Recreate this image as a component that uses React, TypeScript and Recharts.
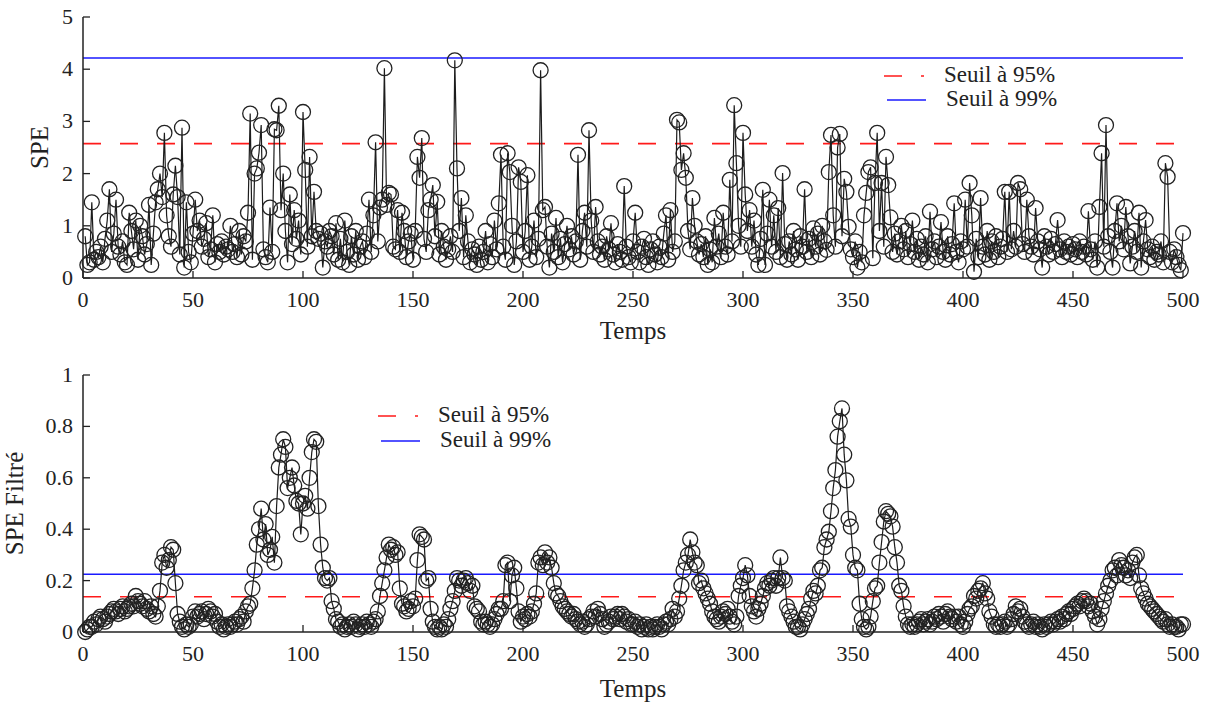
import { LineChart, Line, XAxis, YAxis, ReferenceLine, Legend, Text } from 'recharts';

// SPE brut, t = 1..500
const spe = [
  0.8, 0.25, 0.3, 1.45, 0.35, 0.5, 0.4, 0.6, 0.3, 0.75,
  1.1, 1.7, 0.5, 0.85, 1.5, 0.6, 0.45, 0.7, 0.3, 0.25,
  1.25, 0.9, 0.55, 1.1, 0.35, 1.0, 0.8, 0.45, 0.65, 1.4,
  0.25, 0.85, 1.45, 1.7, 2.0, 1.55, 2.78, 1.2, 0.8, 0.6,
  1.6, 2.15, 1.55, 0.45, 2.88, 0.2, 1.45, 0.5, 0.3, 0.85,
  1.5, 0.9, 1.1, 0.6, 0.75, 1.05, 0.4, 0.55, 1.2, 0.3,
  0.65, 0.5, 0.7, 0.45, 0.6, 0.55, 1.0, 0.5, 0.65, 0.4,
  0.9, 0.45, 0.8, 0.7, 1.25, 3.15, 0.35, 2.0, 2.1, 2.4,
  2.93, 0.55, 0.4, 0.3, 1.35, 0.5, 2.85, 2.83, 3.3, 1.3,
  2.0, 0.9, 0.3, 1.6, 0.65, 1.3, 0.75, 1.1, 0.45, 3.18,
  2.07, 0.6, 2.32, 0.8, 1.65, 0.9, 0.75, 0.85, 0.2, 0.7,
  0.6, 0.9, 0.8, 0.45, 1.05, 0.35, 0.75, 0.3, 1.1, 0.5,
  0.25, 0.8, 0.45, 0.9, 0.35, 0.6, 0.7, 0.4, 0.85, 1.5,
  0.5, 1.2, 2.6, 0.7, 1.35, 1.5, 4.02, 1.4, 1.63, 1.6,
  0.6, 0.55, 1.3, 0.5, 1.25, 0.9, 0.4, 0.7, 0.85, 0.35,
  0.9, 2.32, 1.92, 2.68, 0.75, 0.5, 1.3, 1.5, 1.78, 0.8,
  1.46, 0.45, 0.9, 0.6, 0.35, 0.55, 0.8, 0.5, 4.17, 2.1,
  0.9, 1.53, 0.4, 1.2, 0.7, 0.3, 0.55, 0.45, 0.25, 0.6,
  0.35, 0.5, 0.9, 0.3, 0.65, 0.4, 1.1, 0.55, 1.43, 2.36,
  0.6, 0.35, 2.39, 2.03, 1.0, 0.25, 0.7, 2.12, 1.84, 0.5,
  0.9, 1.97, 0.35, 0.6, 1.1, 0.4, 0.75, 3.98, 1.3, 1.36,
  0.6, 0.2, 0.85, 0.5, 1.15, 0.4, 0.75, 0.3, 0.65, 1.0,
  0.55, 0.8, 0.45, 0.7, 2.36, 0.35, 0.9, 1.25, 0.6, 2.83,
  1.1, 0.5, 1.36, 0.7, 0.45, 0.6, 0.35, 0.8, 0.55, 1.05,
  0.45, 0.3, 0.65, 0.5, 0.35, 1.76, 0.6, 0.4, 0.3, 0.7,
  1.25, 0.5, 0.3, 0.6, 0.75, 0.4, 0.25, 0.55, 0.7, 0.45,
  0.3, 0.6, 0.4, 0.85, 1.2, 0.35, 1.3, 0.5, 0.7, 3.03,
  2.98, 2.07, 2.39, 1.92, 0.9, 0.55, 1.53, 1.0, 0.7, 0.45,
  0.65, 0.4, 0.8, 0.25, 0.55, 0.3, 1.15, 0.6, 0.85, 0.4,
  1.25, 0.6, 0.45, 1.88, 0.7, 3.31, 2.2, 1.0, 0.6, 2.78,
  1.6, 0.9, 1.3, 0.6, 1.1, 0.45, 0.25, 0.75, 1.69, 0.25,
  0.85, 1.5, 0.6, 1.2, 0.5, 1.34, 0.4, 2.01, 0.65, 0.35,
  0.7, 0.45, 0.9, 0.55, 0.35, 0.8, 0.6, 1.7, 0.5, 0.75,
  0.4, 0.95, 0.6, 0.85, 0.45, 1.0, 0.7, 0.54, 2.03, 2.74,
  1.2, 0.6, 2.5, 2.76, 0.8, 1.9, 1.65, 0.98, 0.55, 0.4,
  0.7, 0.2, 0.5, 0.3, 1.2, 1.63, 2.03, 2.12, 0.38, 1.82,
  2.78, 0.9, 1.82, 0.6, 2.32, 1.78, 1.16, 0.5, 0.85, 0.45,
  0.7, 1.0, 0.55, 0.9, 0.4, 0.65, 1.1, 0.5, 0.75, 0.35,
  0.6, 0.45, 0.8, 0.3, 1.27, 0.55, 0.7, 0.4, 0.6, 1.07,
  0.5, 0.35, 0.8, 0.45, 0.65, 1.43, 0.5, 0.3, 0.7, 0.55,
  1.5, 0.6, 1.82, 1.2, 0.12, 0.75, 0.4, 1.53, 0.6, 0.45,
  0.9, 0.35, 0.7, 0.5, 0.8, 0.4, 0.6, 0.75, 1.65, 0.5,
  1.65, 0.55, 0.9, 0.6, 1.82, 1.7, 0.65, 0.5, 1.5, 0.8,
  0.6, 0.45, 1.34, 0.7, 0.55, 0.2, 0.8, 0.6, 0.45, 0.75,
  0.5, 0.65, 1.11, 0.55, 0.4, 0.7, 0.5, 0.6, 0.45, 0.65,
  0.55, 0.4, 0.7, 0.5, 0.6, 0.45, 1.28, 0.55, 0.35, 0.7,
  0.2, 1.36, 2.39, 0.6, 2.93, 0.8, 0.5, 0.2, 0.9, 1.43,
  0.7, 1.0, 0.55, 1.36, 0.8, 0.28, 0.6, 0.9, 0.5, 1.25,
  0.2, 0.7, 1.11, 0.55, 0.4, 0.6, 0.35, 0.5, 0.45, 0.7,
  0.3, 2.2, 1.94, 0.5, 0.3, 0.55, 0.4, 0.25, 0.15, 0.86,
];

// SPE filtré, t = 1..500
const speFiltre = [
  0.0, 0.01, 0.02, 0.02, 0.04, 0.03, 0.05, 0.06, 0.05, 0.04,
  0.06, 0.07, 0.08, 0.09, 0.08, 0.07, 0.09, 0.1, 0.08, 0.09,
  0.1, 0.11, 0.1, 0.14, 0.12, 0.11, 0.1, 0.12, 0.09, 0.08,
  0.1, 0.07, 0.06, 0.1, 0.16, 0.27, 0.3, 0.25, 0.28, 0.33,
  0.32, 0.19, 0.07, 0.04, 0.02, 0.01, 0.03, 0.02, 0.03, 0.06,
  0.08, 0.06, 0.07, 0.08, 0.05, 0.07, 0.09, 0.08, 0.06, 0.07,
  0.04, 0.02, 0.03, 0.01, 0.02, 0.03, 0.02, 0.03, 0.04, 0.03,
  0.05, 0.06, 0.04, 0.08, 0.1, 0.11, 0.17, 0.24, 0.34, 0.4,
  0.48, 0.36, 0.42, 0.3, 0.32, 0.37, 0.27, 0.49, 0.64, 0.69,
  0.75, 0.72, 0.56, 0.6, 0.64, 0.57, 0.51, 0.5, 0.38, 0.5,
  0.53, 0.48, 0.6, 0.7, 0.75, 0.74, 0.49, 0.34, 0.25, 0.21,
  0.2, 0.21, 0.12, 0.09, 0.05, 0.04, 0.02, 0.03, 0.01, 0.02,
  0.03, 0.02, 0.04, 0.03, 0.01, 0.02, 0.03, 0.02, 0.04, 0.03,
  0.02, 0.04, 0.05, 0.08, 0.14, 0.19, 0.24, 0.29, 0.34, 0.32,
  0.33, 0.3, 0.31, 0.17, 0.11, 0.1, 0.08, 0.09, 0.12, 0.1,
  0.13, 0.28, 0.38, 0.37, 0.36, 0.2, 0.21, 0.09, 0.04, 0.02,
  0.01, 0.02, 0.01, 0.03, 0.02, 0.05, 0.09, 0.12, 0.16, 0.21,
  0.2, 0.18, 0.2, 0.21, 0.19, 0.16, 0.18, 0.1, 0.09, 0.08,
  0.04, 0.03, 0.04, 0.03, 0.02, 0.03, 0.05, 0.07, 0.09, 0.09,
  0.12, 0.26, 0.27, 0.12, 0.22, 0.25, 0.17, 0.08, 0.04, 0.06,
  0.05, 0.07, 0.06, 0.08, 0.11, 0.15, 0.27, 0.29, 0.26, 0.31,
  0.27, 0.29, 0.25, 0.19, 0.15, 0.14, 0.12, 0.1, 0.09, 0.08,
  0.07, 0.06, 0.07, 0.05, 0.04, 0.03, 0.04, 0.02, 0.03, 0.05,
  0.06, 0.08, 0.06, 0.09, 0.07, 0.05, 0.02, 0.03, 0.04, 0.06,
  0.05, 0.06, 0.07, 0.05, 0.07, 0.06, 0.04, 0.05, 0.03, 0.03,
  0.04, 0.02, 0.03, 0.01, 0.02, 0.03, 0.01, 0.02, 0.01, 0.02,
  0.03, 0.02, 0.01, 0.03, 0.04, 0.03, 0.05, 0.09, 0.06, 0.08,
  0.13, 0.18, 0.24, 0.27, 0.3, 0.36, 0.31, 0.27, 0.26, 0.19,
  0.2, 0.17, 0.15, 0.13, 0.11, 0.08, 0.06, 0.05, 0.04, 0.06,
  0.08, 0.07, 0.09, 0.06, 0.04, 0.03, 0.06, 0.14, 0.18, 0.21,
  0.26, 0.22, 0.14, 0.1, 0.08, 0.06, 0.09, 0.11, 0.14, 0.17,
  0.19, 0.18, 0.2, 0.21, 0.18, 0.21, 0.29, 0.21, 0.2, 0.1,
  0.08, 0.06, 0.04, 0.02, 0.02, 0.01, 0.03, 0.05, 0.07, 0.09,
  0.13, 0.16, 0.15, 0.18, 0.24, 0.25, 0.33, 0.36, 0.39, 0.47,
  0.56, 0.63, 0.76, 0.82, 0.87, 0.69, 0.59, 0.44, 0.41, 0.3,
  0.25, 0.24, 0.11, 0.05, 0.02, 0.01, 0.02, 0.06, 0.12, 0.17,
  0.18, 0.27, 0.35, 0.43, 0.47, 0.46, 0.45, 0.41, 0.33, 0.27,
  0.18, 0.16, 0.1, 0.06, 0.03, 0.02, 0.03, 0.02, 0.03, 0.04,
  0.05, 0.03, 0.04, 0.05, 0.03, 0.04, 0.06, 0.05, 0.07, 0.06,
  0.04, 0.07, 0.08, 0.06, 0.05, 0.06, 0.04, 0.06, 0.03, 0.02,
  0.04, 0.07, 0.09, 0.1, 0.14, 0.13, 0.16, 0.17, 0.19, 0.15,
  0.13, 0.08, 0.06, 0.03, 0.02, 0.03, 0.02, 0.03, 0.04, 0.02,
  0.03, 0.05, 0.07, 0.1, 0.08, 0.09, 0.06, 0.04, 0.03, 0.02,
  0.03, 0.04, 0.02, 0.03, 0.02, 0.01, 0.03, 0.02, 0.03, 0.04,
  0.03, 0.04, 0.05, 0.04, 0.06, 0.05, 0.07, 0.08, 0.07, 0.09,
  0.1, 0.11, 0.1, 0.12, 0.13, 0.12, 0.1, 0.11, 0.08, 0.06,
  0.03, 0.05, 0.09, 0.12, 0.15, 0.18, 0.2, 0.24, 0.25, 0.22,
  0.28, 0.26, 0.25, 0.22, 0.24, 0.21, 0.27, 0.29, 0.3, 0.22,
  0.17, 0.15, 0.13, 0.11, 0.1, 0.09, 0.08, 0.07, 0.06, 0.05,
  0.04, 0.05, 0.03, 0.02, 0.03, 0.02, 0.02, 0.01, 0.03, 0.03,
];

const tempsTicks = [0, 50, 100, 150, 200, 250, 300, 350, 400, 450, 500];
const speTicks = [0, 1, 2, 3, 4, 5];
const filtreTicks = [0, 0.2, 0.4, 0.6, 0.8, 1];

const seuilsSpe = { s95: 2.575, s99: 4.215 };
const seuilsFiltre = { s95: 0.137, s99: 0.225 };

const speData = spe.map((v, i) => ({ t: i + 1, v }));
const filtreData = speFiltre.map((v, i) => ({ t: i + 1, v }));

const SERIF = 'Liberation Serif';
const INK = '#222';
const RED = '#ff1a1a';
const BLUE = '#1a1aff';
const MARGIN = 10;

function XTick({ x, y, payload }: any) {
  const axisY = y - MARGIN;
  return (
    <g>
      <line x1={x} y1={axisY} x2={x} y2={axisY - 7} stroke={INK} strokeWidth={1.3} />
      <Text x={x} y={axisY + 29} textAnchor='middle' fontSize={22} fontFamily={SERIF} fill={INK}>{String(payload.value)}</Text>
    </g>
  );
}

function YTick({ x, y, payload }: any) {
  const axisX = x + MARGIN;
  return (
    <g>
      <line x1={axisX} y1={y} x2={axisX + 7} y2={y} stroke={INK} strokeWidth={1.3} />
      <Text x={axisX - 10} y={y + 7} textAnchor='end' fontSize={22} fontFamily={SERIF} fill={INK}>{String(payload.value)}</Text>
    </g>
  );
}

function SeuilLegend({ gap }: { gap: number }) {
  return (
    <svg width={200} height={56} style={{ display: 'block', overflow: 'visible' }}>
      <line x1={0} y1={12} x2={40} y2={12} stroke={RED} strokeWidth={1.6} strokeDasharray='18 19' />
      <Text x={60} y={18} fontSize={23} fontFamily={SERIF} fill={INK}>Seuil à 95%</Text>
      <line x1={3} y1={12 + gap} x2={42} y2={12 + gap} stroke={BLUE} strokeWidth={1.6} />
      <Text x={62} y={18 + gap} fontSize={23} fontFamily={SERIF} fill={INK}>Seuil à 99%</Text>
    </svg>
  );
}

interface PanelProps {
  data: { t: number; v: number }[];
  ticks: number[];
  domain: [number, number];
  seuils: { s95: number; s99: number };
  yLabel: string;
  yLabelDx: number;
  labelDy: number;
  legendPos: { left: number; top: number; gap: number };
  height: number;
  top: number;
  plotHeight: number;
}

function Panel({ data, ticks, domain, seuils, yLabel, yLabelDx, labelDy, legendPos, height, top, plotHeight }: PanelProps) {
  return (
    <LineChart width={1211} height={height} data={data} margin={{ top, right: 28, bottom: 0, left: 0 }}>
      <XAxis
        dataKey='t' type='number' domain={[0, 500]} ticks={tempsTicks} height={height - top - plotHeight}
        tickSize={0} tickMargin={MARGIN} tick={<XTick />}
        axisLine={{ stroke: INK, strokeWidth: 1.5 }}
        label={{ value: 'Temps', position: 'center', dy: labelDy, fontSize: 25, fontFamily: SERIF, fill: INK }}
      />
      <YAxis
        type='number' domain={domain} ticks={ticks} width={83}
        tickSize={0} tickMargin={MARGIN} tick={<YTick />}
        axisLine={{ stroke: INK, strokeWidth: 1.5 }}
        label={{ value: yLabel, angle: -90, position: 'center', dx: yLabelDx, fontSize: 25, fontFamily: SERIF, fill: INK }}
      />
      <ReferenceLine y={seuils.s95} stroke={RED} strokeWidth={1.6} strokeDasharray='18 19' />
      <ReferenceLine y={seuils.s99} stroke={BLUE} strokeWidth={1.6} />
      <Legend
        verticalAlign='middle' align='center'
        wrapperStyle={{ position: 'absolute', left: legendPos.left, top: legendPos.top, width: 200 }}
        content={() => <SeuilLegend gap={legendPos.gap} />}
      />
      <Line
        type='linear' dataKey='v' name='SPE' stroke='#1c1c1c' strokeWidth={1.2}
        dot={{ r: 7.5, fill: 'none', stroke: '#222', strokeWidth: 1.3 }}
        isAnimationActive={false}
      />
    </LineChart>
  );
}

export default function App() {
  return (
    <div style={{ position: 'absolute', left: 0, top: 0, width: 1211, height: 702, background: '#fff', fontFamily: SERIF }}>
      <div style={{ position: 'absolute', left: 0, top: 0 }}>
        <Panel data={speData} ticks={speTicks} domain={[0, 5]} seuils={seuilsSpe} yLabel='SPE' yLabelDx={-2}
          labelDy={16} legendPos={{ left: 884, top: 64, gap: 24 }} height={350} top={17} plotHeight={261} />
      </div>
      <div style={{ position: 'absolute', left: 0, top: 350 }}>
        <Panel data={filtreData} ticks={filtreTicks} domain={[0, 1]} seuils={seuilsFiltre} yLabel='SPE Filtré' yLabelDx={-27}
          labelDy={21} legendPos={{ left: 378, top: 54, gap: 25 }} height={352} top={25} plotHeight={257} />
      </div>
    </div>
  );
}
